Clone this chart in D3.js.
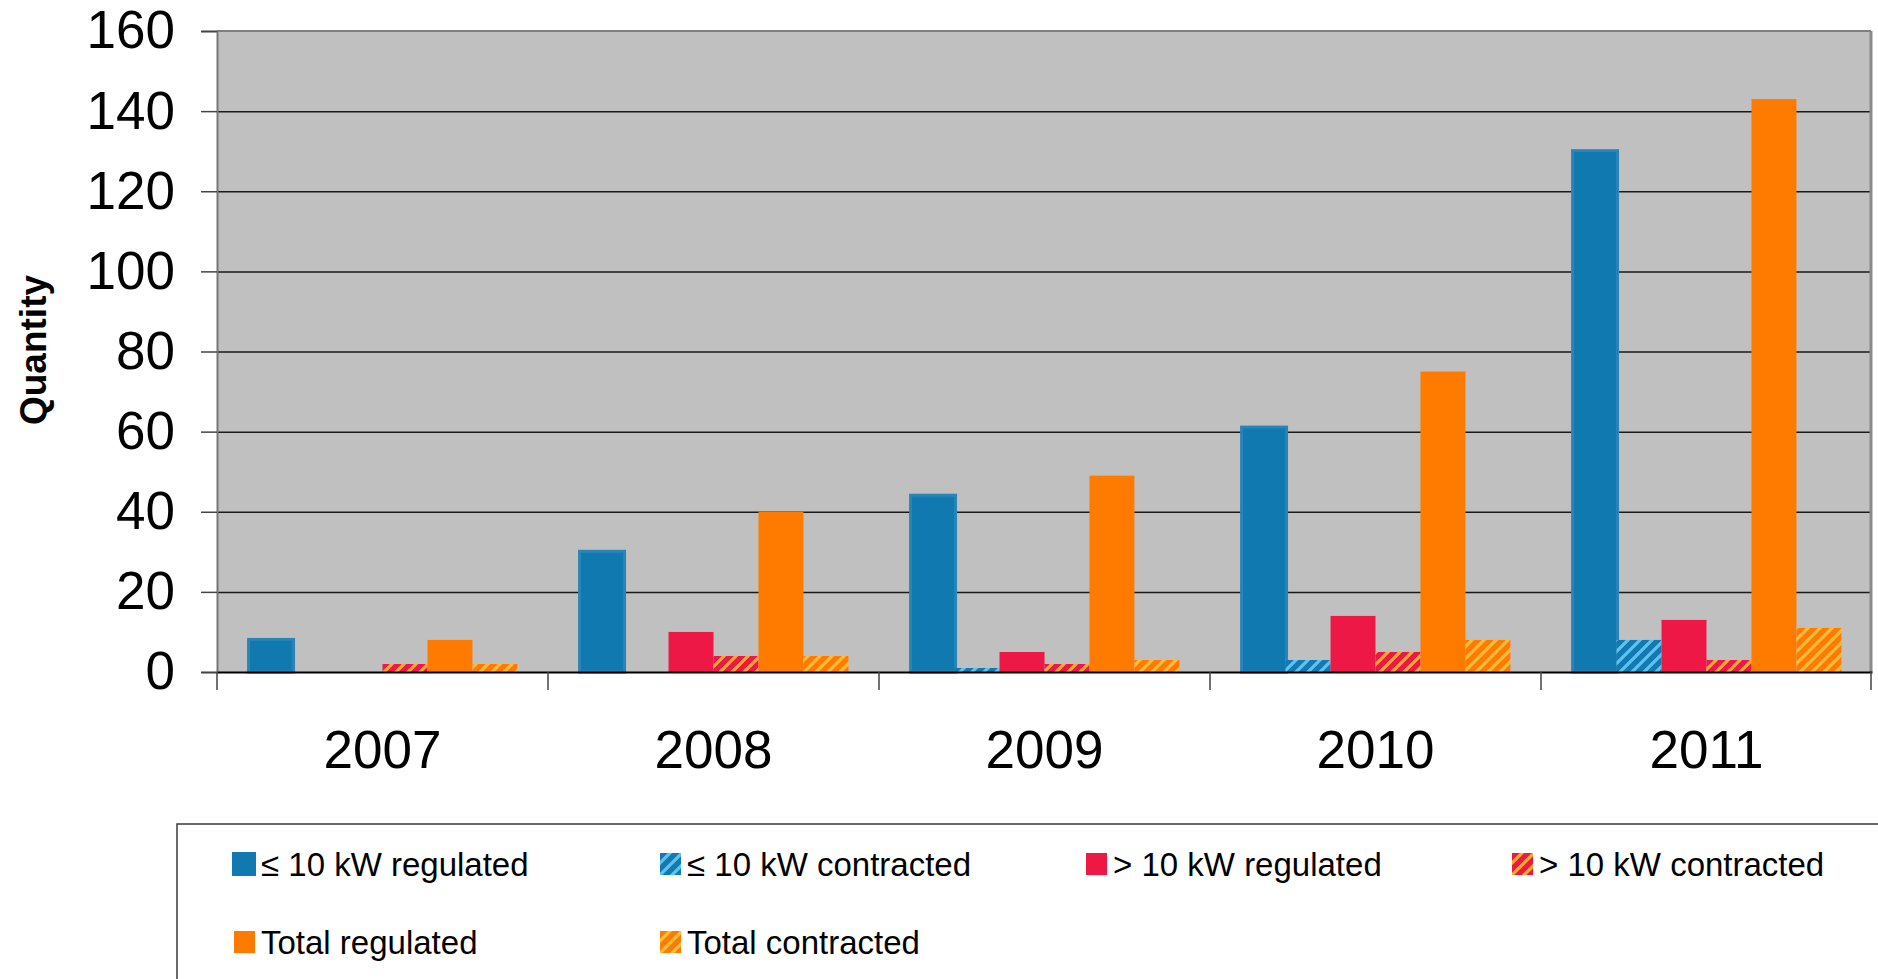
<!DOCTYPE html>
<html>
<head>
<meta charset="utf-8">
<script src="https://cdn.jsdelivr.net/npm/d3@7"></script>
<style>
    body { margin: 0; background: #fff; }
    svg { display: block; font-family: "Liberation Sans", Arial, sans-serif; }
</style>
</head>
<body>
<div id="chart-container"></div>
<script>
const years = ["2007", "2008", "2009", "2010", "2011"];
const seriesNames = [
    "≤ 10 kW regulated",
    "≤ 10 kW contracted",
    "> 10 kW regulated",
    "> 10 kW contracted",
    "Total regulated",
    "Total contracted"
];
const le10Regulated = [8.5, 30.5, 44.5, 61.5, 130.5];
const le10Contracted = [0, 0, 1, 3, 8];
const gt10Regulated = [0, 10, 5, 14, 13];
const gt10Contracted = [2, 4, 2, 5, 3];
const totalRegulated = [8, 40, 49, 75, 143];
const totalContracted = [2, 4, 3, 8, 11];
const yTicks = [0, 20, 40, 60, 80, 100, 120, 140, 160];

document.addEventListener("DOMContentLoaded", () => {
    const svgW = 1878;
    const svgH = 979;
    const plot = { left: 217, right: 1872, top: 31, bottom: 672 };

    const seriesValues = [le10Regulated, le10Contracted, gt10Regulated, gt10Contracted, totalRegulated, totalContracted];

    // fill per series: solid colour or a stripe pattern (base, stripe)
    const styles = [
        { fill: "#0F79B0" },
        { base: "#1279B3", stripe: "#5FC3EE", id: "hatch-blue" },
        { fill: "#EE1846" },
        { base: "#EE1846", stripe: "#F6AE2A", id: "hatch-red" },
        { fill: "#FF7B00" },
        { base: "#FF7B00", stripe: "#FFBC3C", id: "hatch-orange" }
    ];

    const rows = [];
    years.forEach((yr, i) => {
        seriesNames.forEach((s, j) => {
            rows.push({ year: yr, series: s, idx: j, value: seriesValues[j][i] });
        });
    });

    const x0 = d3.scaleBand()
    .domain(years)
    .range([plot.left, plot.right]);

    const x1 = d3.scaleBand()
    .domain(seriesNames)
    .range([0, x0.bandwidth()])
    .paddingInner(0)
    .paddingOuter(0.68);

    const y = d3.scaleLinear()
    .domain([0, 160])
    .range([plot.bottom, plot.top]);

    const svg = d3.select("#chart-container")
    .append("svg")
    .attr("width", svgW)
    .attr("height", svgH);

    const defs = svg.append("defs");
    styles.filter(s => s.id).forEach(s => {
        const p = defs.append("pattern")
        .attr("id", s.id)
        .attr("patternUnits", "userSpaceOnUse")
        .attr("width", 12)
        .attr("height", 12);
        p.append("rect").attr("width", 12).attr("height", 12).attr("fill", s.base);
        p.append("path")
        .attr("d", "M-3,3 L3,-3 M0,12 L12,0 M9,15 L15,9")
        .attr("stroke", s.stripe)
        .attr("stroke-width", 3.2);
    });
    const fillOf = i => styles[i].id ? `url(#${styles[i].id})` : styles[i].fill;

    // plot background
    svg.append("rect")
    .attr("x", plot.left)
    .attr("y", plot.top)
    .attr("width", plot.right - plot.left)
    .attr("height", plot.bottom - plot.top)
    .attr("fill", "#C0C0C0");

    // grid lines
    svg.append("g")
    .attr("transform", `translate(${plot.left}, 0)`)
    .call(d3.axisLeft(y).tickValues(yTicks.slice(1, -1)).tickSize(-(plot.right - plot.left)).tickFormat(""))
    .call(g => g.select(".domain").remove())
    .call(g => g.selectAll("line").attr("stroke", "#1a1a1a").attr("stroke-width", 1.5));

    // top and right border
    svg.append("line")
    .attr("x1", plot.left).attr("x2", plot.right - 1)
    .attr("y1", y(160)).attr("y2", y(160))
    .attr("stroke", "#808080").attr("stroke-width", 2);
    svg.append("line")
    .attr("x1", plot.right - 1).attr("x2", plot.right - 1)
    .attr("y1", y(160)).attr("y2", plot.bottom)
    .attr("stroke", "#8a8a8a").attr("stroke-width", 3);

    // bars (the solid blue series has a wide border in the original, so it looks broader)
    svg.append("g")
    .selectAll("rect")
    .data(rows.filter(d => d.value > 0))
    .enter()
    .append("rect")
    .attr("x", d => x0(d.year) + x1(d.series) + (d.idx === 0 ? 1 : 0))
    .attr("y", d => y(d.value) + (d.idx === 0 ? 1.5 : 0))
    .attr("width", x1.bandwidth())
    .attr("height", d => y(0) - y(d.value) - (d.idx === 0 ? 1.5 : 0))
    .attr("fill", d => fillOf(d.idx))
    .attr("stroke", d => d.idx === 0 ? "#2A84B8" : "none")
    .attr("stroke-width", 3);

    // y axis
    svg.append("g")
    .attr("transform", `translate(${plot.left}, 0)`)
    .call(d3.axisLeft(y).tickValues(yTicks).tickSize(16).tickPadding(26))
    .call(g => g.select(".domain").attr("stroke", "#777").attr("stroke-width", 2))
    .call(g => g.selectAll("line").attr("stroke", "#444").attr("stroke-width", 1.5))
    .call(g => g.selectAll("text")
        .attr("fill", "#000")
        .style("font-size", "53px")
        .style("font-family", "'Liberation Sans', Arial, sans-serif"));

    // x axis with ticks at category boundaries
    const xAxis = svg.append("g")
    .attr("transform", `translate(0, ${plot.bottom})`)
    .call(d3.axisBottom(x0).tickSize(0).tickPadding(58))
    .call(g => g.select(".domain").attr("stroke", "#000").attr("stroke-width", 2))
    .call(g => g.selectAll("text")
        .attr("fill", "#000")
        .style("font-size", "53px")
        .style("font-family", "'Liberation Sans', Arial, sans-serif"));

    xAxis.selectAll(".bound")
    .data(years.map(d => x0(d)).concat([x0.range()[1] - 1]))
    .enter()
    .append("line")
    .attr("class", "bound")
    .attr("x1", d => d).attr("x2", d => d)
    .attr("y1", 0).attr("y2", 18)
    .attr("stroke", "#444")
    .attr("stroke-width", 1.5);

    // axis title
    svg.append("text")
    .text("Quantity")
    .attr("transform", "translate(46, 350) rotate(-90)")
    .style("text-anchor", "middle")
    .style("font-weight", "bold")
    .style("font-size", "37px");

    // legend
    const legend = svg.append("g").attr("id", "legend");

    legend.append("rect")
    .attr("x", 177)
    .attr("y", 824)
    .attr("width", 1800)
    .attr("height", 300)
    .attr("fill", "#fff")
    .attr("stroke", "#3a3a3a")
    .attr("stroke-width", 1.5);

    const items = legend.selectAll("g.item")
    .data(seriesNames)
    .enter()
    .append("g")
    .attr("class", "item")
    .attr("transform", (_, i) => `translate(${233 + (i % 4) * 426}, ${i < 4 ? 876 : 954})`);

    items.append("rect")
    .attr("x", (_, i) => i === 0 ? -1 : 1)
    .attr("y", (_, i) => i === 0 ? -24 : -23)
    .attr("width", (_, i) => i === 0 ? 24 : 21)
    .attr("height", (_, i) => i === 0 ? 24 : 22)
    .attr("fill", (_, i) => fillOf(i));

    items.append("text")
    .text(d => d)
    .attr("x", 28)
    .attr("y", 0)
    .style("font-size", "33px");
});
</script>
</body>
</html>
